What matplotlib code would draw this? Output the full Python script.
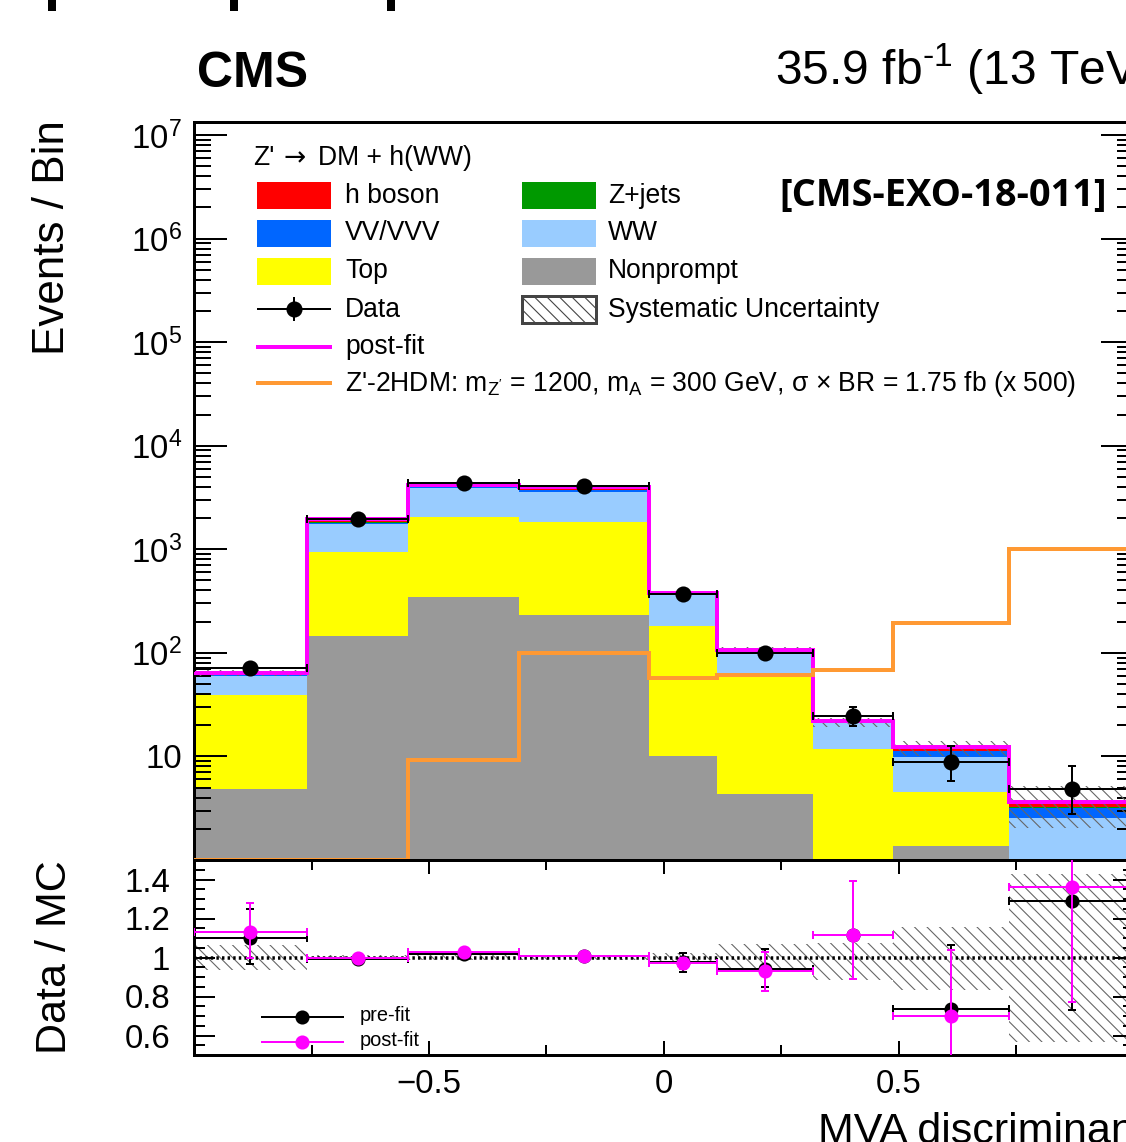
import numpy as np
import matplotlib
matplotlib.use("Agg")
import matplotlib.pyplot as plt
from matplotlib.patches import Rectangle
from matplotlib.lines import Line2D
from matplotlib.ticker import FixedLocator, FuncFormatter, LogLocator, MultipleLocator

# ---- data ----
edges = np.array([-1.0, -0.76, -0.544, -0.308, -0.032, 0.113, 0.317, 0.487, 0.735, 1.0])

nonprompt = np.array([4.9, 147, 344, 230, 10.2, 4.3, 0.3, 1.35, 0.3])
top = np.array([33.9, 788, 1696, 1590, 170, 59.1, 11.4, 3.14, 0.4])
ww = np.array([20.5, 810, 1840, 1730, 180, 35.5, 9.1, 5.3, 1.82])
vv = np.array([1.5, 40, 110, 150, 8, 3, 0.6, 1.4, 0.69])
zjets = np.array([0.3, 55, 30, 30, 2, 1, 0.1, 0.05, 0.03])
higgs = np.array([1.5, 20, 50, 100, 4, 2, 0.3, 0.5, 0.3])

postfit = np.array([64, 1950, 4150, 3970, 376, 106, 21.8, 12.2, 3.6])
signal = np.array([0.5, 0.5, 9.2, 99, 57, 61, 69, 193, 1000])

data = np.array([72, 1980, 4340, 4060, 367, 99, 24.3, 8.75, 4.8])
data_up = np.array([8.5, 44, 66, 64, 19, 10, 5.4, 3.75, 3.2])
data_dn = np.array([8.5, 44, 66, 64, 19, 10, 4.8, 3.0, 2.05])

syst_lo = np.array([0.938, 0.988, 0.988, 0.988, 0.975, 0.938, 0.886, 0.834, 0.565])
syst_hi = np.array([1.062, 1.012, 1.012, 1.012, 1.025, 1.067, 1.076, 1.156, 1.43])

pre_ratio = np.array([1.10, 0.99, 1.02, 1.01, 0.975, 0.94, 1.115, 0.735, 1.29])
pre_up = np.array([0.15, 0.02, 0.015, 0.015, 0.05, 0.105, 0.275, 0.33, 0.56])
pre_dn = np.array([0.135, 0.02, 0.015, 0.015, 0.05, 0.09, 0.225, 0.33, 0.56])
post_ratio = np.array([1.13, 0.995, 1.026, 1.01, 0.97, 0.93, 1.115, 0.70, 1.36])
post_up = np.array([0.15, 0.02, 0.015, 0.015, 0.03, 0.10, 0.275, 0.34, 0.59])
post_dn = np.array([0.135, 0.02, 0.015, 0.015, 0.03, 0.10, 0.225, 0.34, 0.59])

# ---- layout helpers (pixel based) ----
DPI = 150
W, H = 1126, 1142
def P(px):
    return px * 72.0 / DPI
def fx(x):
    return x / W
def fy(y):
    return 1 - y / H

plt.rcParams['font.family'] = ['Liberation Sans', 'DejaVu Sans']
plt.rcParams['mathtext.fontset'] = 'custom'
plt.rcParams['mathtext.rm'] = 'Liberation Sans'
plt.rcParams['mathtext.it'] = 'Liberation Sans:italic'
plt.rcParams['mathtext.bf'] = 'Liberation Sans:bold'
plt.rcParams['mathtext.default'] = 'regular'
plt.rcParams['hatch.linewidth'] = P(1.1)

HATCH = '\\' * 4

c_np = '#999999'
c_top = '#ffff00'
c_ww = '#99ccff'
c_vv = '#0066ff'
c_zj = '#009900'
c_h = '#ff0000'
c_mag = '#ff00ff'
c_sig = '#ff9933'
c_hatch = '#666666'

centers = 0.5 * (edges[1:] + edges[:-1])
halfw = 0.5 * np.diff(edges)

fig = plt.figure(figsize=(W / DPI, H / DPI), dpi=DPI)
ax = fig.add_axes([fx(194), fy(860), 940 / W, (860 - 122) / H])
rax = fig.add_axes([fx(194), fy(1055), 940 / W, (1055 - 860) / H])

ylo, yhi = 1.0, 10 ** 7.125

# stacked backgrounds
base = np.full(len(centers), 1e-3)
for vals, col in [(nonprompt, c_np), (top, c_top), (ww, c_ww),
                  (vv, c_vv), (zjets, c_zj), (higgs, c_h)]:
    up = base + vals
    ax.stairs(up, edges, baseline=base, fill=True, color=col, lw=0, zorder=1)
    base = up

# systematic band
ax.bar(edges[:-1], postfit * (syst_hi - syst_lo), width=np.diff(edges),
       bottom=postfit * syst_lo, align='edge', facecolor='none',
       edgecolor=c_hatch, hatch=HATCH, lw=0, zorder=2)

ax.stairs(postfit, edges, baseline=None, color=c_mag, lw=P(4), zorder=3)
ax.stairs(np.clip(signal, ylo, None), edges, baseline=None, color=c_sig, lw=P(4), zorder=3)

ax.errorbar(centers, data, xerr=halfw, yerr=[data_dn, data_up], fmt='o', color='k',
            ms=P(14), lw=P(2), capsize=P(4), capthick=P(2), zorder=5)

ax.set_xlim(-1, 1)
ax.set_yscale('log')
ax.set_ylim(ylo, yhi)
ax.yaxis.set_major_locator(FixedLocator([10.0 ** k for k in range(0, 8)]))
ax.yaxis.set_minor_locator(LogLocator(base=10, subs=np.arange(2, 10), numticks=30))

def ylab(v, pos):
    k = int(round(np.log10(v)))
    if k == 0:
        return ''
    if k == 1:
        return '10'
    return '$10^{%d}$' % k

ax.yaxis.set_major_formatter(FuncFormatter(ylab))
ax.tick_params(axis='y', which='major', direction='in', length=P(33), width=P(2),
               left=True, right=True, pad=P(12), labelsize=P(33))
ax.tick_params(axis='y', which='minor', direction='in', length=P(17), width=P(2),
               left=True, right=True)
ax.tick_params(axis='x', which='both', bottom=False, top=False, labelbottom=False)
for s in ax.spines.values():
    s.set_linewidth(P(3))

# ---- ratio panel ----
rax.bar(edges[:-1], syst_hi - syst_lo, width=np.diff(edges), bottom=syst_lo,
        align='edge', facecolor='none', edgecolor=c_hatch, hatch=HATCH, lw=0, zorder=1)
rax.axhline(1.0, color='k', lw=P(3.5), ls=(0, (0.7, 0.9)), zorder=2)
rax.errorbar(centers, pre_ratio, xerr=halfw, yerr=[pre_dn, pre_up], fmt='o', color='k',
             ms=P(12), lw=P(2), capsize=P(4), capthick=P(2), zorder=3)
rax.errorbar(centers, post_ratio, xerr=halfw, yerr=[post_dn, post_up], fmt='o', color=c_mag,
             ms=P(12), lw=P(2), capsize=P(4), capthick=P(2), zorder=4)

rax.set_xlim(-1, 1)
rax.set_ylim(0.5, 1.5)
rax.xaxis.set_major_locator(FixedLocator([-0.5, 0.0, 0.5]))
rax.xaxis.set_major_formatter(FuncFormatter(lambda v, p: {-0.5: '\u22120.5', 0.0: '0', 0.5: '0.5'}.get(round(v, 2), '')))
rax.xaxis.set_minor_locator(FixedLocator([-0.75, -0.25, 0.25, 0.75]))
rax.yaxis.set_major_locator(FixedLocator([0.6, 0.8, 1.0, 1.2, 1.4]))
rax.yaxis.set_major_formatter(FuncFormatter(lambda v, p: '%g' % v))
rax.yaxis.set_minor_locator(MultipleLocator(0.05))
rax.tick_params(axis='x', which='major', direction='in', length=P(14), width=P(2),
                top=True, bottom=True, pad=P(14), labelsize=P(33))
rax.tick_params(axis='x', which='minor', direction='in', length=P(10), width=P(2),
                top=True, bottom=True)
rax.tick_params(axis='y', which='major', direction='in', length=P(21), width=P(2),
                left=True, right=True, pad=P(24), labelsize=P(33))
rax.tick_params(axis='y', which='minor', direction='in', length=P(11), width=P(2),
                left=True, right=True)
for s in rax.spines.values():
    s.set_linewidth(P(3))

# ---- texts ----
fig.text(fx(197), fy(87), 'CMS', fontsize=P(50), fontweight='bold', va='baseline', ha='left')
fig.text(fx(775), fy(85), r'35.9 fb$^{\text{-1}}$ (13 TeV)', fontsize=P(48), va='baseline', ha='left')
fig.text(fx(1107), fy(196), '[CMS-EXO-18-011]', fontsize=P(38), fontweight='bold',
         family=['Open Sans', 'DejaVu Sans'], ha='right', va='center')
fig.text(fx(53), fy(120), 'Events / Bin', fontsize=P(44), rotation=90, ha='center', va='top')
fig.text(fx(55), fy(957), 'Data / MC', fontsize=P(43), rotation=90, ha='center', va='center')
fig.text(fx(818), fy(1143), 'MVA discriminant', fontsize=P(43), ha='left', va='baseline')

# cut-off marks at the very top of the picture
for x0 in [48, 230, 387]:
    fig.add_artist(Rectangle((fx(x0), fy(11)), 8 / W, 11 / H, transform=fig.transFigure,
                             facecolor='k', edgecolor='none'))

# ---- main legend ----
fs_leg = P(26.5)
fig.text(fx(253), fy(165), "Z'", fontsize=fs_leg, va='baseline')
fig.text(fx(295), fy(158), "\u2192", fontsize=fs_leg, va='center', ha='center',
         family=['DejaVu Sans'])
fig.text(fx(318), fy(165), "DM + h(WW)", fontsize=fs_leg, va='baseline')
rows = [195.5, 233, 271, 309, 347, 383]
bw, bh = 74, 27
col1_box, col2_box = 257, 522
col1_txt, col2_txt = 345, 608

def box(x0, yc, color, hatch=None):
    if hatch:
        r = Rectangle((fx(x0), fy(yc + bh / 2)), bw / W, bh / H, transform=fig.transFigure,
                      facecolor='none', edgecolor='#444444', hatch=hatch, lw=P(3))
    else:
        r = Rectangle((fx(x0), fy(yc + bh / 2)), bw / W, bh / H, transform=fig.transFigure,
                      facecolor=color, edgecolor='none')
    fig.add_artist(r)

left_entries = [('h boson', c_h), ('VV/VVV', c_vv), ('Top', c_top)]
right_entries = [('Z+jets', c_zj), ('WW', c_ww), ('Nonprompt', c_np)]
for i, (lab, col) in enumerate(left_entries):
    box(col1_box, rows[i], col)
    fig.text(fx(col1_txt), fy(rows[i] + 7.5), lab, fontsize=fs_leg, va='baseline')
for i, (lab, col) in enumerate(right_entries):
    box(col2_box, rows[i], col)
    fig.text(fx(col2_txt), fy(rows[i] + 7.5), lab, fontsize=fs_leg, va='baseline')

box(col2_box, rows[3], None, hatch=HATCH)
fig.text(fx(col2_txt), fy(rows[3] + 7.5), 'Systematic Uncertainty', fontsize=fs_leg, va='baseline')

# data entry
fig.add_artist(Line2D([fx(258), fx(330)], [fy(rows[3])] * 2, color='k', lw=P(2),
                      transform=fig.transFigure))
fig.add_artist(Line2D([fx(294), fx(294)], [fy(rows[3] - 11), fy(rows[3] + 11)], color='k',
                      lw=P(2), transform=fig.transFigure))
fig.add_artist(Line2D([fx(294)], [fy(rows[3])], color='k', marker='o', ms=P(14), lw=0,
                      transform=fig.transFigure))
fig.text(fx(col1_txt), fy(rows[3] + 7.5), 'Data', fontsize=fs_leg, va='baseline')

fig.add_artist(Line2D([fx(258), fx(330)], [fy(rows[4])] * 2, color=c_mag, lw=P(4),
                      transform=fig.transFigure))
fig.text(fx(col1_txt), fy(rows[4] + 7.5), 'post-fit', fontsize=fs_leg, va='baseline')

fig.add_artist(Line2D([fx(258), fx(330)], [fy(rows[5])] * 2, color=c_sig, lw=P(4),
                      transform=fig.transFigure))
fig.text(fx(col1_txt), fy(rows[5] + 7.5),
         r"Z'-2HDM: m$_{Z'}$ = 1200, m$_{A}$ = 300 GeV, $\sigma$ $\times$ BR = 1.75 fb (x 500)",
         fontsize=fs_leg, va='baseline')

# ---- ratio legend ----
for yc, col, lab in [(1017, 'k', 'pre-fit'), (1042, c_mag, 'post-fit')]:
    fig.add_artist(Line2D([fx(262), fx(343)], [fy(yc)] * 2, color=col, lw=P(2),
                          transform=fig.transFigure))
    fig.add_artist(Line2D([fx(302)], [fy(yc)], color=col, marker='o', ms=P(12), lw=0,
                          transform=fig.transFigure))
    fig.text(fx(360), fy(yc + 4), lab, fontsize=P(20), va='baseline')

fig.savefig('out.png', dpi=DPI)
